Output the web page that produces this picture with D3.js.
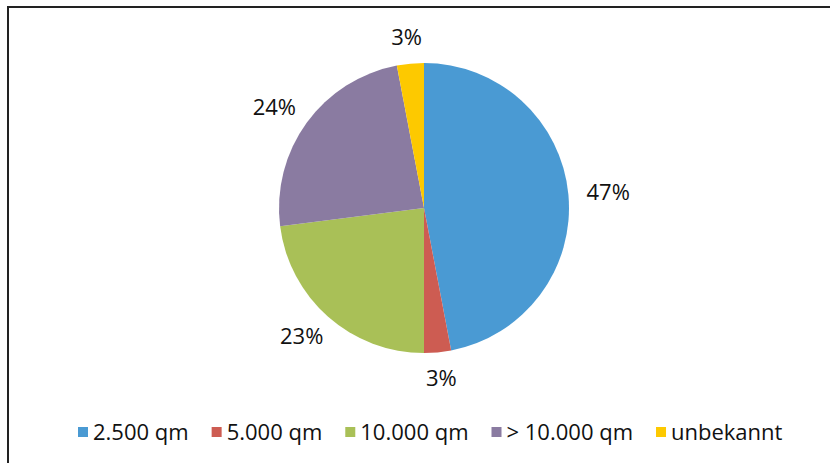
<!DOCTYPE html>
<html>
<head>
<meta charset="utf-8">
<script src="https://cdn.jsdelivr.net/npm/d3@7"></script>
<style>
  html, body { margin: 0; padding: 0; background: #fff; }
  svg { display: block; font-family: "Open Sans", sans-serif; }
</style>
</head>
<body>
<svg id="chart"></svg>
<script>
// Anteil nach Flächengröße
const categories = ['2.500 qm', '5.000 qm', '10.000 qm', '> 10.000 qm', 'unbekannt'];
const shares = [47, 3, 23, 24, 3];
const labels = ['47%', '3%', '23%', '24%', '3%'];
const colors = ['#4a9ad3', '#cd5c52', '#a9c057', '#8a7ba1', '#fdc900'];

const width = 830, height = 463;
const cx = 424, cy = 208, radius = 145;

const svg = d3.select('#chart')
  .attr('width', width)
  .attr('height', height);

// frame (runs off the right/bottom edge like the scan)
svg.append('path')
  .attr('d', `M8,${height + 5} L8,7 L${width + 5},7`)
  .attr('fill', 'none')
  .attr('stroke', '#222')
  .attr('stroke-width', 2);

const pie = d3.pie().sort(null).value(d => d);
const arcs = pie(shares);

const arc = d3.arc().innerRadius(0).outerRadius(radius);

const g = svg.append('g').attr('transform', `translate(${cx},${cy})`);

g.selectAll('path.slice')
  .data(arcs)
  .enter().append('path')
  .attr('class', 'slice')
  .attr('d', arc)
  .attr('fill', (d, i) => colors[i]);

// outside-end labels
const labelArc = d3.arc().innerRadius(radius + 16).outerRadius(radius + 16);
g.selectAll('text.lbl')
  .data(arcs)
  .enter().append('text')
  .attr('class', 'lbl')
  .attr('x', d => {
    const a = (d.startAngle + d.endAngle) / 2;
    return labelArc.centroid(d)[0] + Math.sin(a) * 24;
  })
  .attr('y', d => {
    const a = (d.startAngle + d.endAngle) / 2;
    return labelArc.centroid(d)[1] - Math.cos(a) * 10;
  })
  .attr('text-anchor', 'middle')
  .attr('dy', '0.35em')
  .attr('font-size', 22)
  .attr('fill', '#111')
  .text((d, i) => labels[i]);

// legend
const legend = svg.append('g').attr('transform', 'translate(78,432)');
let xPos = 0;
categories.forEach((c, i) => {
  const item = legend.append('g').attr('transform', `translate(${xPos},0)`);
  item.append('rect')
    .attr('x', 0).attr('y', -5)
    .attr('width', 10).attr('height', 10)
    .attr('fill', colors[i]);
  const t = item.append('text')
    .attr('x', 15)
    .attr('dy', '0.35em')
    .attr('font-size', 22)
    .attr('fill', '#111')
    .text(c);
  xPos += 15 + t.node().getComputedTextLength() + 23;
});
</script>
</body>
</html>
